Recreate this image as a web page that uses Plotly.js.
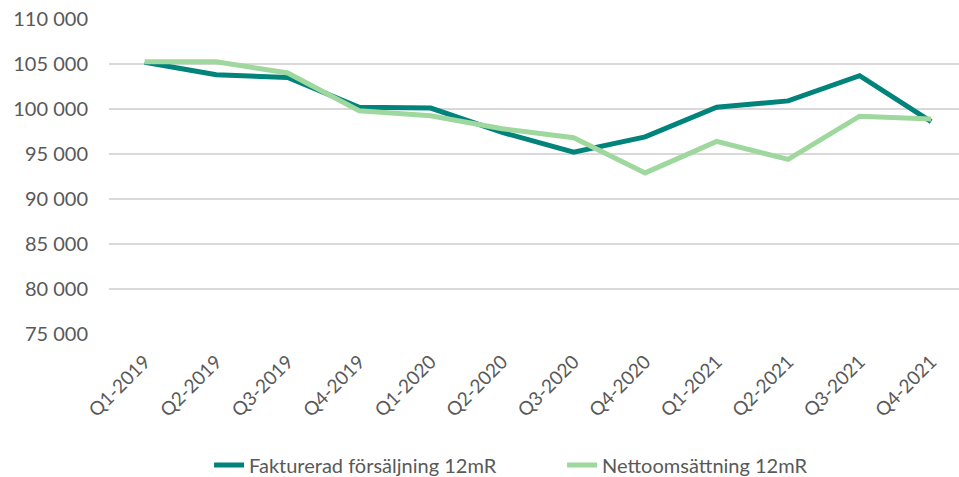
<!DOCTYPE html>
<html>
<head>
<meta charset="utf-8">
<script src="https://cdn.plot.ly/plotly-3.0.1.min.js"></script>
<style>html,body{margin:0;padding:0;background:#fff;}#chart{width:959px;height:477px;}</style>
</head>
<body>
<div id="chart"></div>
<script>
const categories = ["Q1-2019","Q2-2019","Q3-2019","Q4-2019","Q1-2020","Q2-2020","Q3-2020","Q4-2020","Q1-2021","Q2-2021","Q3-2021","Q4-2021"];
const fakturerad = [105200,103800,103500,100200,100100,97400,95200,96900,100200,100900,103700,98600];
const netto = [105250,105250,104000,99800,99250,97800,96800,92900,96400,94400,99200,98900];
const yTicks = [75000,80000,85000,90000,95000,100000,105000,110000];
const seriesNames = ["Fakturerad försäljning 12mR","Nettoomsättning 12mR"];

const font = "Lato, 'Open Sans', sans-serif";
const traces = [
  {x: categories, y: fakturerad, name: seriesNames[0], type: "scatter", mode: "lines",
   line: {color: "#00837B", width: 5}},
  {x: categories, y: netto, name: seriesNames[1], type: "scatter", mode: "lines",
   line: {color: "#9ED89E", width: 5}}
];
const layout = {
  width: 959, height: 477,
  margin: {l: 109, r: 0, t: 19, b: 143},
  separators: ", ",
  paper_bgcolor: "#fff", plot_bgcolor: "#fff",
  font: {family: font, color: "#595959", size: 18},
  showlegend: true,
  legend: {orientation: "h", x: 0.218, xanchor: "left", xref: "container",
           yref: "container", y: 0.025, yanchor: "middle",
           font: {family: font, size: 20, color: "#595959"}, traceorder: "normal",
           itemwidth: 30, entrywidth: 308},
  xaxis: {type: "category", range: [-0.5, 11.39], tickangle: -45, showgrid: false,
          zeroline: false, showline: false, ticks: "", tickfont: {size: 19},
          ticklabelstandoff: 12, fixedrange: true},
  yaxis: {range: [75000, 110000], tickvals: yTicks, tickformat: ",d",
          showgrid: true, gridcolor: "#D9D9D9", gridwidth: 1.5, zeroline: false,
          showline: false, ticks: "", ticklabelstandoff: 20, tickfont: {size: 20},
          fixedrange: true}
};
Plotly.newPlot("chart", traces, layout, {displayModeBar: false, staticPlot: true});
</script>
</body>
</html>
